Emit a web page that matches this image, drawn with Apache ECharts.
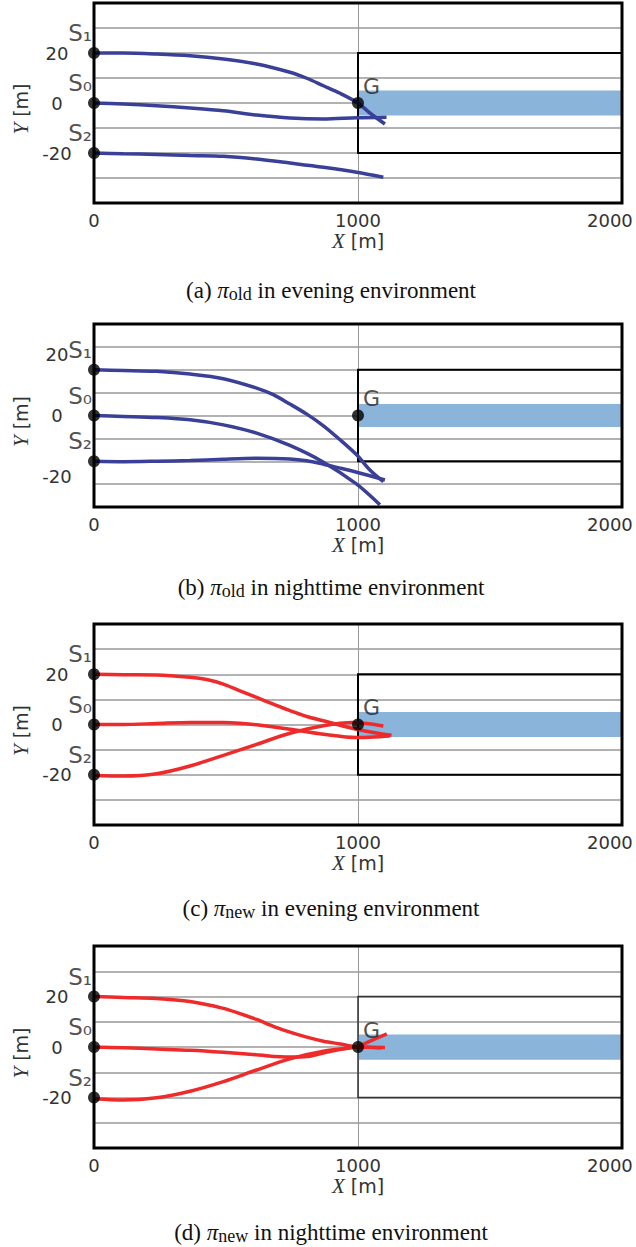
<!DOCTYPE html>
<html>
<head>
<meta charset="utf-8">
<script src="https://cdn.jsdelivr.net/npm/echarts@6/dist/echarts.min.js"></script>
<style>
  html, body { margin: 0; padding: 0; background: #fff; }
  #chart { width: 636px; height: 1247px; }
</style>
</head>
<body>
<div id="chart"></div>
<script>
// tick labels
const xTickLabels = [0, 1000, 2000];
const yTickLabels = [-20, 0, 20];

// start / goal
const startNames = ['S₁', 'S₀', 'S₂'];
const startPoints = [[0, 20], [0, 0], [0, -20]];
const goalPoint = [1000, 0];
const goalBox = [1000, 2000, -20, 20];   // x0, x1, y0, y1
const goalBand = [1000, 2000, -5, 5];

// (a) pi_old, evening
const aS1 = [[0, 20], [111, 20], [237, 19.6], [364, 18.9], [490, 17.6], [616, 15.6], [742, 12.3], [806, 9.9], [869, 6.9], [932, 3.9], [1000, 0], [1045, -4], [1102, -8.4]];
const aS0 = [[0, 0], [111, -0.4], [237, -1.1], [364, -2], [490, -3.1], [616, -4.8], [742, -6], [869, -6.4], [995, -5.9], [1108, -5.7]];
const aS2 = [[0, -20], [111, -20.3], [237, -20.6], [364, -21], [490, -21.3], [616, -22.4], [742, -24], [869, -25.7], [995, -27.7], [1096, -29.7]];

// (b) pi_old, nighttime
const bS1 = [[0, 20], [111, 19.7], [237, 19.3], [364, 18.1], [490, 16.1], [616, 12], [679, 9.1], [742, 5], [806, 0.6], [869, -4.5], [932, -10.6], [995, -17.2], [1045, -23.8], [1096, -28.9]];
const bS0 = [[0, 0], [111, -0.4], [237, -0.9], [364, -1.9], [490, -4.1], [616, -7.7], [742, -13.1], [869, -20.4], [995, -30], [1083, -39]];
const bS2 = [[0, -20], [111, -20.2], [237, -20], [364, -19.7], [490, -19.1], [616, -18.7], [742, -19], [806, -19.8], [869, -21.3], [932, -23], [995, -24.8], [1102, -28.2]];

// (c) pi_new, evening
const cS1 = [[0, 20], [111, 19.8], [237, 19.7], [364, 18.8], [427, 17.9], [490, 16.1], [553, 13.4], [616, 10.8], [679, 8.1], [742, 5.5], [806, 3.2], [869, 1.5], [932, -0.3], [995, -1.9], [1058, -3.2], [1127, -4.3]];
const cS0 = [[0, 0], [111, 0], [237, 0.4], [364, 0.8], [490, 0.8], [553, 0.5], [616, -0.1], [742, -1.9], [869, -3.9], [995, -5.2], [1060, -5], [1120, -4.6]];
const cS2 = [[0, -20.3], [111, -20.5], [237, -19.6], [364, -16.5], [490, -12.3], [616, -7.9], [742, -3.5], [869, -0.5], [980, 0.8], [1040, 0.3], [1096, -0.6]];

// (d) pi_new, nighttime
const dS1 = [[0, 20], [111, 19.6], [237, 19.2], [364, 18], [490, 15.3], [553, 13.2], [616, 10.9], [679, 8.2], [742, 5.9], [806, 3.9], [869, 2.3], [932, 1.2], [995, 0.1], [1050, -0.1], [1102, -0.2]];
const dS0 = [[0, 0], [111, -0.3], [237, -0.8], [364, -1.3], [490, -2.1], [616, -3.1], [742, -4], [806, -3.8], [869, -2.4], [995, 0], [1090, -0.3]];
const dS2 = [[0, -20.5], [111, -21], [237, -20.1], [364, -17.5], [490, -13.7], [616, -9.1], [742, -4.7], [869, -1.7], [995, 0.1], [1050, 2.5], [1109, 5.2]];

const BLUE = '#3a3f98';
const RED = '#ee2a2a';
const BAND = '#8ab4d9';
const SANS = 'DejaVu Sans';
const SERIF = 'Liberation Serif';

const panels = [
  { top: 3, height: 200, color: BLUE, traj: [aS1, aS0, aS2], cap: ['(a) ', 'old', ' in evening environment'], capTop: 277, box: '#000', boxW: 2 },
  { top: 324, height: 183, color: BLUE, traj: [bS1, bS0, bS2], cap: ['(b) ', 'old', ' in nighttime environment'], capTop: 574, box: '#000', boxW: 2, shiftedLabels: true },
  { top: 624, height: 201, color: RED, traj: [cS1, cS0, cS2], cap: ['(c) ', 'new', ' in evening environment'], capTop: 895, box: '#000', boxW: 2 },
  { top: 946, height: 202, color: RED, traj: [dS1, dS0, dS2], cap: ['(d) ', 'new', ' in nighttime environment'], capTop: 1219, box: '#333', boxW: 1.5 }
];

const tickStyle = { fontFamily: SANS, fontSize: 18, color: '#333' };

const option = { animation: false, title: [], grid: [], xAxis: [], yAxis: [], series: [] };

panels.forEach((p, i) => {
  option.grid.push({
    left: 94, top: p.top, width: 528, height: p.height, outerBoundsMode: 'none',
    show: true, borderColor: '#000', borderWidth: 3, backgroundColor: 'transparent', z: 4
  });

  option.xAxis.push({
    type: 'value', gridIndex: i, min: 0, max: 2000, interval: 1000,
    axisLine: { show: false }, axisTick: { show: false },
    splitLine: { showMinLine: false, showMaxLine: false, lineStyle: { color: '#999', width: 1 } },
    axisLabel: {
      ...tickStyle, margin: 8,
      formatter: v => xTickLabels.indexOf(v) < 0 ? '' : (v === 2000 ? '{r|2000}' : String(v)),
      rich: { r: { ...tickStyle, width: 70, align: 'left' } }
    },
    name: '{x|X} {u|[m]}', nameLocation: 'middle', nameGap: 27,
    nameTextStyle: {
      color: '#333', fontFamily: SANS, fontSize: 19,
      rich: {
        x: { fontFamily: SERIF, fontStyle: 'italic', fontSize: 21, color: '#333' },
        u: { fontFamily: SANS, fontSize: 19, color: '#333' }
      }
    }
  });

  option.yAxis.push({
    type: 'value', gridIndex: i, min: -40, max: 40, interval: 10,
    axisLine: { show: false }, axisTick: { show: false },
    splitLine: { showMinLine: false, showMaxLine: false, lineStyle: { color: '#999', width: 1.5 } },
    axisLabel: {
      show: !p.shiftedLabels, ...tickStyle, align: 'center', margin: 37,
      formatter: v => yTickLabels.indexOf(v) < 0 ? '' : String(v)
    },
    name: '{y|Y} {u|[m]}', nameLocation: 'middle', nameRotate: 90, nameGap: 63,
    nameTextStyle: {
      color: '#333', fontFamily: SANS, fontSize: 19, padding: [0, 12, 0, 0],
      rich: {
        y: { fontFamily: SERIF, fontStyle: 'italic', fontSize: 21, color: '#333' },
        u: { fontFamily: SANS, fontSize: 19, color: '#333' }
      }
    }
  });

  option.title.push({
    left: 331, top: p.capTop, padding: 0, textAlign: 'center',
    text: '{t|' + p.cap[0] + '}{pi|π}{s|' + p.cap[1] + '}{t|' + p.cap[2] + '}',
    textStyle: {
      fontWeight: 'normal',
      rich: {
        t: { fontFamily: SERIF, fontWeight: 'normal', fontSize: 23, color: '#111', lineHeight: 26 },
        pi: { fontFamily: SERIF, fontWeight: 'normal', fontStyle: 'italic', fontSize: 23, color: '#111', lineHeight: 26 },
        s: { fontFamily: SERIF, fontWeight: 'normal', fontSize: 18, color: '#111', lineHeight: 18, verticalAlign: 'bottom' }
      }
    }
  });

  // goal area
  option.series.push({
    type: 'line', xAxisIndex: i, yAxisIndex: i, z: 1,
    data: [goalPoint], showSymbol: false, symbol: 'none', lineStyle: { width: 0 },
    markArea: {
      silent: true,
      data: [
        [{ xAxis: goalBand[0], yAxis: goalBand[3], itemStyle: { color: BAND } }, { xAxis: goalBand[1], yAxis: goalBand[2] }],
        [{ xAxis: goalBox[0], yAxis: goalBox[3], itemStyle: { color: 'rgba(0,0,0,0)', borderColor: p.box, borderWidth: p.boxW } }, { xAxis: goalBox[1], yAxis: goalBox[2] }]
      ]
    }
  });

  p.traj.forEach(t => {
    option.series.push({
      type: 'line', xAxisIndex: i, yAxisIndex: i, z: 3,
      data: t, showSymbol: false, smooth: 0.3,
      lineStyle: { color: p.color, width: 3.5 }
    });
  });

  option.series.push({
    type: 'scatter', xAxisIndex: i, yAxisIndex: i, z: 5,
    symbolSize: 12, itemStyle: { color: '#000' },
    data: startPoints.map((pt, k) => ({ value: pt, name: startNames[k] })),
    label: { show: true, formatter: '{b}', position: 'left', offset: [9, -20], fontFamily: SANS, fontSize: 23, color: '#222' }
  });
  option.series.push({
    type: 'scatter', xAxisIndex: i, yAxisIndex: i, z: 5,
    symbolSize: 12, itemStyle: { color: '#000' },
    data: [{ value: goalPoint, name: 'G' }],
    label: { show: true, formatter: '{b}', position: 'right', offset: [-6, -17], fontFamily: SANS, fontSize: 22, color: '#222' }
  });
});

// panel (b) prints its y tick labels off the grid lines
option.yAxis.push({
  type: 'value', gridIndex: 1, position: 'left', min: -30, max: 30, interval: 10,
  axisLine: { show: false }, axisTick: { show: false }, splitLine: { show: false },
  axisLabel: { ...tickStyle, align: 'center', margin: 37, formatter: v => yTickLabels.indexOf(v) < 0 ? '' : String(v) }
});

const chart = echarts.init(document.getElementById('chart'), null, { renderer: 'svg' });
chart.setOption(option);
</script>
</body>
</html>
